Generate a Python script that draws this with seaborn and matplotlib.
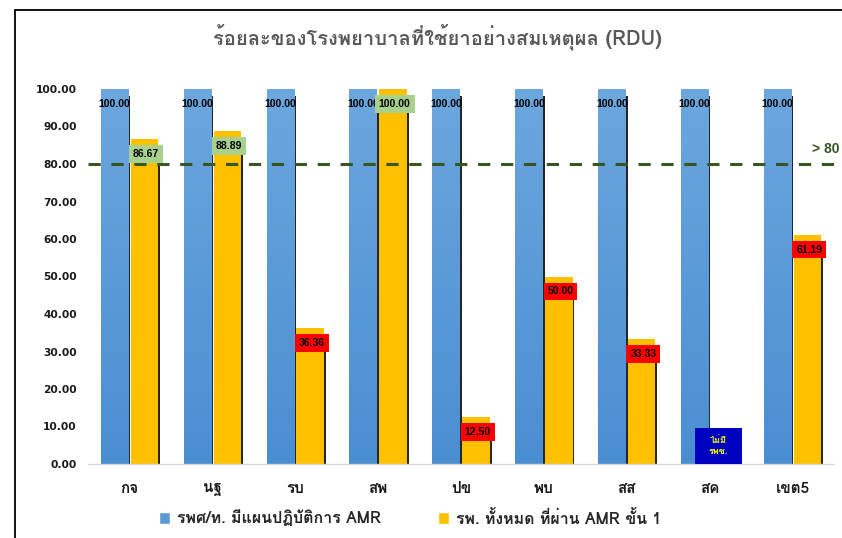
import numpy as np
import pandas as pd
import matplotlib
matplotlib.use("Agg")
import matplotlib.pyplot as plt
import seaborn as sns
from matplotlib import font_manager
from matplotlib.ft2font import FT2Font
from matplotlib.colors import LinearSegmentedColormap
import matplotlib.patheffects as pe
from matplotlib.lines import Line2D
from matplotlib.patches import Rectangle

categories = ["กจ", "นฐ", "รบ", "สพ", "ปข", "พบ", "สส", "สค", "เขต5"]
plan_amr = [100.00, 100.00, 100.00, 100.00, 100.00, 100.00, 100.00, 100.00, 100.00]
pass_amr = [86.67, 88.89, 36.36, 100.00, 12.50, 50.00, 33.33, np.nan, 61.19]
series_names = ["รพศ/ท. มีแผนปฏิบัติการ AMR", "รพ. ทั้งหมด ที่ผ่าน AMR ขั้น 1"]
title_text = "ร้อยละของโรงพยาบาลที่ใช้ยาอย่างสมเหตุผล (RDU)"
target = 80
target_label = "> 80"
no_hospital_note = "ไม่มี\nรพช."
y_ticks = [0, 10, 20, 30, 40, 50, 60, 70, 80, 90, 100]


def pick_thai_family(preferred=("Loma", "Tahoma", "Leelawadee UI", "Noto Sans Thai")):
    """Return an installed family that covers Thai, favouring Tahoma-like faces."""
    found = []
    for f in font_manager.fontManager.ttflist:
        try:
            cmap = FT2Font(f.fname).get_charmap()
        except Exception:
            continue
        if 0x0E23 in cmap and 0x0E49 in cmap and 0x0E1E in cmap:
            found.append(f.name)
    for name in preferred:
        if name in found:
            return name
    return found[0] if found else "DejaVu Sans"


thai_family = pick_thai_family()

sns.set_theme(style="white")
plt.rcParams["font.family"] = [thai_family, "DejaVu Sans"]

BLUE = "#5B9BD5"
GOLD = "#FFC000"

df = pd.DataFrame({
    "cat": categories * 2,
    "value": plan_amr + pass_amr,
    "series": [series_names[0]] * len(categories) + [series_names[1]] * len(categories),
}).dropna()

fig = plt.figure(figsize=(8.42, 5.38), dpi=100)
ax = fig.add_axes([88 / 842, 1 - 464 / 538, 746 / 842, 375 / 538])

sns.barplot(data=df, x="cat", y="value", hue="series", order=categories,
            hue_order=series_names, palette=[BLUE, GOLD], width=0.72, gap=0.08,
            errorbar=None, saturation=1, ax=ax, zorder=2)

shadow = [pe.SimplePatchShadow(offset=(1.4, -5), shadow_rgbFace="#1a1a1a", alpha=0.95), pe.Normal()]
for p in ax.patches:
    p.set_path_effects(shadow)
    p.set_edgecolor("none")

# soft vertical gradient over the blue bars
blue_grad = LinearSegmentedColormap.from_list("blue_grad", ["#4A8ED2", "#6CA7DE"])
ramp = np.linspace(0, 1, 256).reshape(-1, 1)
for p in ax.containers[0]:
    x0, y0, w, h = p.get_x(), p.get_y(), p.get_width(), p.get_height()
    ax.imshow(ramp, extent=[x0, x0 + w, y0, y0 + h], origin="lower", cmap=blue_grad,
              aspect="auto", zorder=2.05, interpolation="bilinear")

ax.set_ylim(0, 100)
ax.set_xlim(-0.5, len(categories) - 0.5)
ax.set_yticks(y_ticks)
ax.set_yticklabels([f"{v:.2f}" for v in y_ticks], fontfamily="DejaVu Sans",
                   fontweight="bold", fontsize=7.7, color="#1a1a1a")
ax.tick_params(axis="y", length=0, pad=8)
ax.tick_params(axis="x", length=0, pad=13)
for lbl in ax.get_xticklabels():
    lbl.set_fontweight("bold")
    lbl.set_fontsize(11)
    lbl.set_color("#1a1a1a")
ax.set_xlabel("")
ax.set_ylabel("")
sns.despine(ax=ax, left=True)
ax.spines["bottom"].set_color("#D9D9D9")
ax.spines["bottom"].set_linewidth(1)

# target line running out to the right edge of the figure
ax.axhline(target, xmin=0, xmax=(842 - 88) / 746, color="#375623", lw=2.2,
           linestyle=(0, (4, 3.5)), clip_on=False, zorder=3)
ax.text((812 - 88) / 746, 84, target_label, transform=ax.get_yaxis_transform(),
        color="#375623", fontweight="bold", fontsize=10, fontfamily="Liberation Sans",
        ha="left", va="center", clip_on=False)

off = 0.18
label_font = dict(fontfamily="Liberation Sans", fontweight="bold", fontsize=7.5, color="black")
for i, v in enumerate(plan_amr):
    ax.text(i - off, v - 4, f"{v:.2f}", ha="center", va="center", zorder=5, **label_font)
for i, v in enumerate(pass_amr):
    if np.isnan(v):
        continue
    face = "#A9D18E" if v >= target else "#FF0000"
    ax.text(i + off + 0.02, v - 4, f"{v:.2f}", ha="center", va="center", zorder=5,
            bbox=dict(boxstyle="square,pad=0.38", fc=face, ec="none"), **label_font)

# note for the district without community hospitals
k = categories.index("สค")
ax.add_patch(Rectangle((k - 0.18, 0), 0.57, 9.6, facecolor="#0000C0", edgecolor="none", zorder=4))
ax.text(k + 0.105, 4.8, no_hospital_note, ha="center", va="center", color="#FFFF00",
        fontsize=6.5, fontweight="bold", linespacing=1.3, zorder=5)

fig.text(437 / 842, 1 - 37 / 538, title_text, fontsize=14.5, fontweight="bold",
         color="#595959", ha="center", va="center")

handles = [Rectangle((0, 0), 1, 1, fc=BLUE), Rectangle((0, 0), 1, 1, fc=GOLD)]
ax.legend_.remove()
fig.legend(handles, series_names, loc="center", bbox_to_anchor=(410 / 842, 1 - 518 / 538),
           ncol=2, frameon=False, handlelength=0.7, handleheight=0.7, handletextpad=0.4,
           columnspacing=3.6, prop=dict(weight="bold", size=11.5))

# outer frame lines
fig.add_artist(Line2D([15 / 842, 15 / 842], [0, 1 - 10 / 538], color="black", lw=1.3))
fig.add_artist(Line2D([15 / 842, 1], [1 - 10 / 538, 1 - 10 / 538], color="black", lw=1.3))

fig.savefig("out.png", dpi=100, facecolor="white")
